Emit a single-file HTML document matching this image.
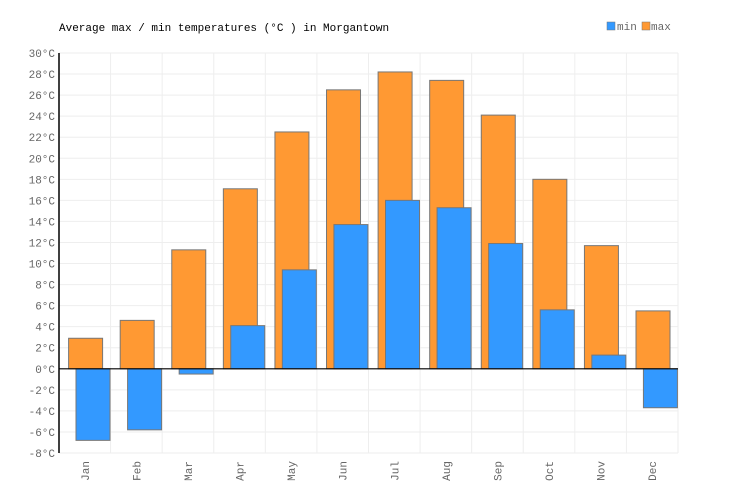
<!DOCTYPE html>
<html><head><meta charset="utf-8"><style>
body{margin:0;background:#fff}
svg{display:block;font-family:"Liberation Mono","DejaVu Sans Mono",monospace}
</style></head><body>
<svg id="chart" width="736" height="500" viewBox="0 0 736 500">
<text x="59" y="31" font-size="11" fill="#000">Average max / min temperatures (°C ) in Morgantown</text>
<g>
<rect x="607" y="22" width="8" height="8" fill="#3399ff" stroke="#777" stroke-width="0.5"/>
<text x="617" y="30" font-size="11" fill="#666">min</text>
<rect x="642" y="22" width="8" height="8" fill="#ff9933" stroke="#777" stroke-width="0.5"/>
<text x="651" y="30" font-size="11" fill="#666">max</text>
</g>
<g id="grid"></g><g id="bars"></g><g id="axes"></g>
</svg>
<script>
const months=["Jan","Feb","Mar","Apr","May","Jun","Jul","Aug","Sep","Oct","Nov","Dec"];
const maxTemps=[2.9,4.6,11.3,17.1,22.5,26.5,28.2,27.4,24.1,18.0,11.7,5.5];
const minTemps=[-6.8,-5.8,-0.5,4.1,9.4,13.7,16.0,15.3,11.9,5.6,1.3,-3.7];
const yTicks=[-8,-6,-4,-2,0,2,4,6,8,10,12,14,16,18,20,22,24,26,28,30];
const NS="http://www.w3.org/2000/svg";
const X0=59,X1=678,Y0=53,Y1=453,YMIN=-8,YMAX=30;
const cw=(X1-X0)/months.length;
const y=v=>Y0+(YMAX-v)/(YMAX-YMIN)*(Y1-Y0);
const xc=i=>X0+i*cw;
function mk(tag,attrs,parent){const e=document.createElementNS(NS,tag);for(const k in attrs)e.setAttribute(k,attrs[k]);parent.appendChild(e);return e;}
const grid=document.getElementById('grid'),bars=document.getElementById('bars'),axes=document.getElementById('axes');
yTicks.forEach(t=>{
 const l=mk('line',{x1:X0,x2:X1,y1:y(t),y2:y(t),stroke:'#eeeeee','stroke-width':1},grid);
 
 
 const tx=mk('text',{x:X0-4,y:y(t)+4,'text-anchor':'end','font-size':11,fill:'#666'},axes);
 tx.textContent=t+'°C';
 
 
});
months.forEach((m,i)=>{
 const g=mk('line',{x1:xc(i+1),x2:xc(i+1),y1:Y0,y2:Y1,stroke:'#eeeeee','stroke-width':1},grid);
 
 
 const vmax=maxTemps[i],vmin=minTemps[i];
 const r1=mk('rect',{x:xc(i)+9.6,width:34,y:Math.min(y(vmax),y(0)),height:Math.abs(y(vmax)-y(0)),fill:'#ff9933',stroke:'#777','stroke-width':1},bars);
 
 
 const r2=mk('rect',{x:xc(i)+17,width:34,y:Math.min(y(vmin),y(0)),height:Math.abs(y(vmin)-y(0)),fill:'#3399ff',stroke:'#777','stroke-width':1},bars);
 
 
 const cx=xc(i)+cw/2+4;
 const tx=mk('text',{x:cx,y:461,'text-anchor':'end','font-size':11,fill:'#666',transform:`rotate(-90 ${cx} 461)`},axes);
 tx.textContent=m;
 
 
});
const ax=mk('line',{x1:X0,x2:X0,y1:Y0,y2:Y1,stroke:'#000','stroke-width':1.5},axes);


const zl=mk('line',{x1:X0,x2:X1,y1:y(0),y2:y(0),stroke:'#000','stroke-width':1.2},axes);


</script>
</body></html>
